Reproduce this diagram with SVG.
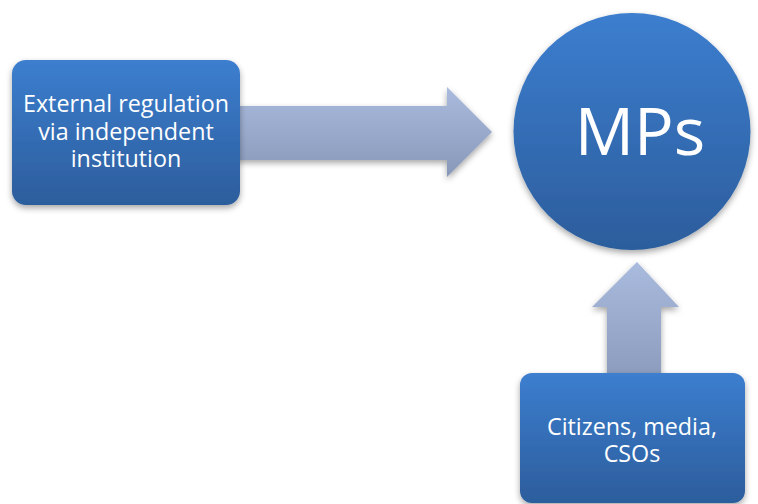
<svg xmlns="http://www.w3.org/2000/svg" width="758" height="504" viewBox="0 0 758 504">
<defs>
<linearGradient id="blue" x1="0" y1="0" x2="0" y2="1">
<stop offset="0" stop-color="#3c7ecf"/>
<stop offset="1" stop-color="#2c5d9c"/>
</linearGradient>
<linearGradient id="arrowH" x1="0" y1="0" x2="0" y2="1">
<stop offset="0" stop-color="#a9bbde"/>
<stop offset="1" stop-color="#8898b8"/>
</linearGradient>
<linearGradient id="arrowV" x1="0" y1="0" x2="0" y2="1">
<stop offset="0" stop-color="#a9bbde"/>
<stop offset="1" stop-color="#8c9cbd"/>
</linearGradient>
<filter id="sh" x="-10%" y="-10%" width="120%" height="125%">
<feDropShadow dx="0" dy="3" stdDeviation="3" flood-color="#000" flood-opacity="0.35"/>
</filter>
</defs>
<style>
.node{fill:url(#blue);filter:url(#sh)}
.lbl{fill:#fff;font-family:"Open Sans","Liberation Sans",sans-serif;text-anchor:middle}
.arr{filter:url(#sh)}
</style>
<rect width="758" height="504" fill="#fff"/>
<g id="connectors">
<path class="arr" fill="url(#arrowH)" d="M236,106 H447 V87 L492,132 L447,177 V160 H236 Z"/>
<path class="arr" fill="url(#arrowV)" d="M607,376 V307 H592 L637,262 L679,307 H661 V376 Z"/>
</g>
<g id="node-external">
<rect class="node" x="12" y="60" width="228" height="145" rx="14"/>
<text class="lbl" font-size="23.3" x="126" y="112">External regulation</text>
<text class="lbl" font-size="23.3" x="126" y="139.5">via independent</text>
<text class="lbl" font-size="23.3" x="126" y="167">institution</text>
</g>
<g id="node-mps">
<circle class="node" cx="632" cy="131.5" r="118.5"/>
<text class="lbl" font-size="66" x="640" y="155">MPs</text>
</g>
<g id="node-citizens">
<rect class="node" x="520" y="373" width="225" height="130" rx="12"/>
<text class="lbl" font-size="23.3" x="632" y="435">Citizens, media,</text>
<text class="lbl" font-size="23.3" x="632" y="462">CSOs</text>
</g>
</svg>
